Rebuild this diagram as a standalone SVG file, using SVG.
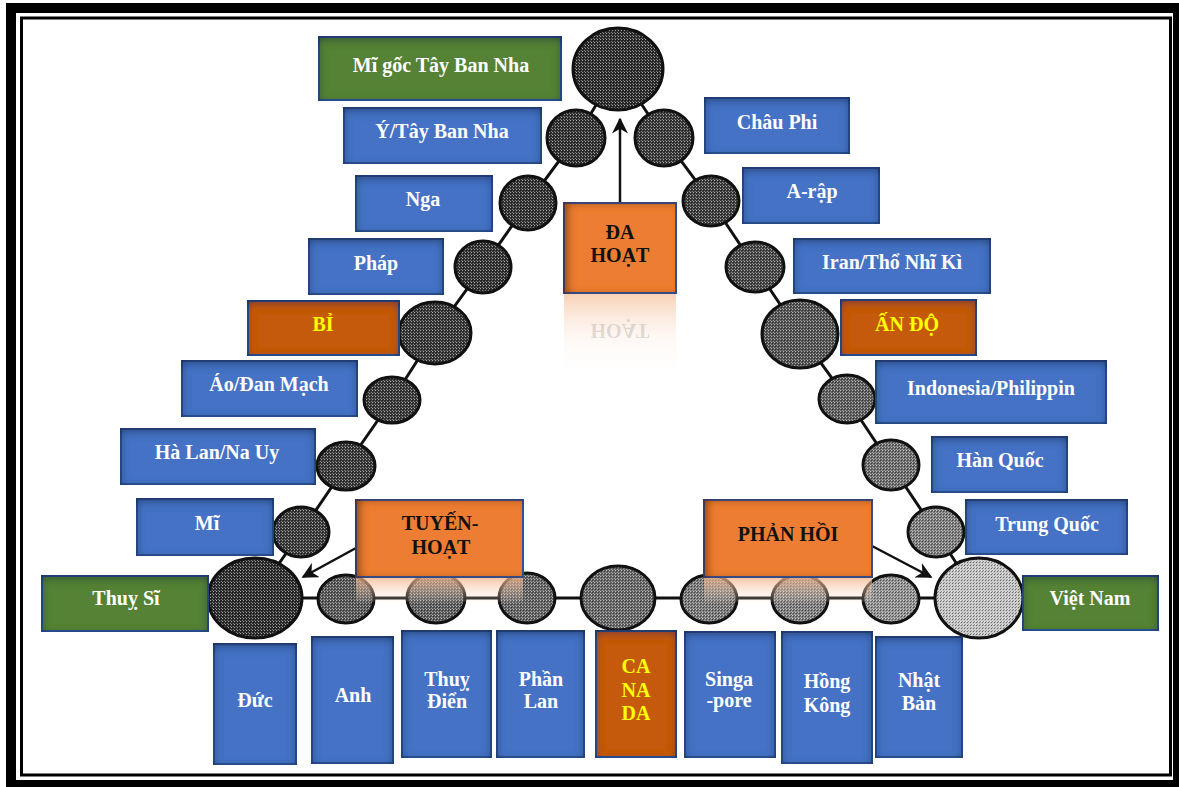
<svg xmlns="http://www.w3.org/2000/svg" width="1179" height="787" viewBox="0 0 1179 787">
<style>
text{font-family:"Liberation Serif","Times New Roman",serif;font-weight:bold;font-size:20px;text-anchor:middle}
.w{fill:#fff}.y{fill:#ffff00}.k{fill:#111}
.blue{fill:#4472C4;stroke:#2F5597;stroke-width:2;filter:url(#ish)}
.green{fill:#548235;stroke:#2F5597;stroke-width:2;filter:url(#ish)}
.brown{fill:#C55A11;stroke:#2F5597;stroke-width:2;filter:url(#ish)}
.orange{fill:#ED7D31;stroke:#2F5597;stroke-width:2;filter:url(#ishL)}
.t{fill:url(#tex);stroke:#111;stroke-width:3}
.ln{stroke:#111;stroke-width:3;fill:none}
.ar{stroke:#111;stroke-width:2.5;fill:none;marker-end:url(#ah)}
</style>
<defs>
<pattern id="tex" width="3" height="3" patternUnits="userSpaceOnUse">
<rect width="1" height="1" fill="#fff" fill-opacity="0.55"/>
<rect x="1" y="1" width="1" height="1" fill="#000" fill-opacity="0.45"/>
<rect x="2" y="2" width="1" height="1" fill="#fff" fill-opacity="0.35"/>
<rect x="2" y="0" width="1" height="1" fill="#000" fill-opacity="0.25"/>
</pattern>
<filter id="ish" x="-20%" y="-20%" width="140%" height="140%">
<feFlood flood-color="#0a1a3a" flood-opacity="0.8" result="f"/>
<feComposite in="f" in2="SourceAlpha" operator="out" result="o"/>
<feGaussianBlur in="o" stdDeviation="5" result="b"/>
<feOffset in="b" dx="0" dy="3" result="bo"/>
<feComposite in="bo" in2="SourceAlpha" operator="in" result="s"/>
<feMerge><feMergeNode in="SourceGraphic"/><feMergeNode in="s"/></feMerge>
</filter>
<filter id="ishL" x="-20%" y="-20%" width="140%" height="140%">
<feFlood flood-color="#4a1f00" flood-opacity="0.8" result="f"/>
<feComposite in="f" in2="SourceAlpha" operator="out" result="o"/>
<feGaussianBlur in="o" stdDeviation="4" result="b"/>
<feOffset in="b" dx="5" dy="1" result="bo"/>
<feComposite in="bo" in2="SourceAlpha" operator="in" result="s"/>
<feMerge><feMergeNode in="SourceGraphic"/><feMergeNode in="s"/></feMerge>
</filter>
<linearGradient id="refl" x1="0" y1="0" x2="0" y2="1">
<stop offset="0" stop-color="#F4B183" stop-opacity="0.6"/>
<stop offset="0.5" stop-color="#FBE5D6" stop-opacity="0.25"/>
<stop offset="1" stop-color="#fff" stop-opacity="0"/>
</linearGradient>
<linearGradient id="refl2" x1="0" y1="0" x2="0" y2="1">
<stop offset="0" stop-color="#F4B183" stop-opacity="0.75"/>
<stop offset="1" stop-color="#FBE5D6" stop-opacity="0.1"/>
</linearGradient>
<marker id="ah" viewBox="0 0 10 10" refX="9" refY="5" markerWidth="6.5" markerHeight="6.5" markerUnits="strokeWidth" orient="auto">
<path d="M0,0 L10,5 L0,10 L3,5 Z" fill="#111"/>
</marker>
</defs>

<rect width="1179" height="787" fill="#fff"/>
<g id="frame" fill="none" stroke="#000">
<rect x="11" y="8" width="1167" height="777" stroke-width="10"/>
<rect x="21.5" y="18" width="1149" height="757" stroke-width="3"/>
</g>

<g id="connectors">
<polyline class="ln" points="618,69 576,138 528,203 483,267 435,333 392,400 346,466 301,532 255,598"/>
<polyline class="ln" points="618,69 664,138 711,201 755,267 800,334 847,399 891,465 936,532 979,598"/>
<line class="ln" x1="255" y1="598" x2="979" y2="598"/>
</g>

<g id="circles">
<g id="c-top"><ellipse cx="618" cy="69" rx="45" ry="41" fill="#2e2e2e"/><ellipse class="t" cx="618" cy="69" rx="45" ry="41"/></g>
<g id="c-l1"><ellipse cx="576" cy="138" rx="29" ry="28" fill="#333"/><ellipse class="t" cx="576" cy="138" rx="29" ry="28"/></g>
<g id="c-l2"><ellipse cx="528" cy="203" rx="28" ry="27" fill="#333"/><ellipse class="t" cx="528" cy="203" rx="28" ry="27"/></g>
<g id="c-l3"><ellipse cx="483" cy="267" rx="28" ry="26" fill="#333"/><ellipse class="t" cx="483" cy="267" rx="28" ry="26"/></g>
<g id="c-l4"><ellipse cx="435" cy="333" rx="36" ry="31" fill="#383838"/><ellipse class="t" cx="435" cy="333" rx="36" ry="31"/></g>
<g id="c-l5"><ellipse cx="392" cy="400" rx="28" ry="23" fill="#3a3a3a"/><ellipse class="t" cx="392" cy="400" rx="28" ry="23"/></g>
<g id="c-l6"><ellipse cx="346" cy="466" rx="29" ry="24" fill="#3a3a3a"/><ellipse class="t" cx="346" cy="466" rx="29" ry="24"/></g>
<g id="c-l7"><ellipse cx="301" cy="532" rx="28" ry="25" fill="#3c3c3c"/><ellipse class="t" cx="301" cy="532" rx="28" ry="25"/></g>
<g id="c-bl"><ellipse cx="255" cy="598" rx="47" ry="40" fill="#2e2e2e"/><ellipse class="t" cx="255" cy="598" rx="47" ry="40"/></g>
<g id="c-b1"><ellipse cx="346" cy="599" rx="28" ry="24" fill="#5a5a5a"/><ellipse class="t" cx="346" cy="599" rx="28" ry="24"/></g>
<g id="c-b2"><ellipse cx="436" cy="598" rx="29" ry="25" fill="#606060"/><ellipse class="t" cx="436" cy="598" rx="29" ry="25"/></g>
<g id="c-b3"><ellipse cx="527" cy="598" rx="28" ry="25" fill="#666"/><ellipse class="t" cx="527" cy="598" rx="28" ry="25"/></g>
<g id="c-b4"><ellipse cx="618" cy="598" rx="37" ry="32" fill="#6a6a6a"/><ellipse class="t" cx="618" cy="598" rx="37" ry="32"/></g>
<g id="c-b5"><ellipse cx="709" cy="599" rx="28" ry="24" fill="#7a7a7a"/><ellipse class="t" cx="709" cy="599" rx="28" ry="24"/></g>
<g id="c-b6"><ellipse cx="800" cy="599" rx="28" ry="24" fill="#808080"/><ellipse class="t" cx="800" cy="599" rx="28" ry="24"/></g>
<g id="c-b7"><ellipse cx="891" cy="599" rx="28" ry="24" fill="#929292"/><ellipse class="t" cx="891" cy="599" rx="28" ry="24"/></g>
<g id="c-r1"><ellipse cx="664" cy="138" rx="29" ry="28" fill="#3a3a3a"/><ellipse class="t" cx="664" cy="138" rx="29" ry="28"/></g>
<g id="c-r2"><ellipse cx="711" cy="201" rx="28" ry="25" fill="#3e3e3e"/><ellipse class="t" cx="711" cy="201" rx="28" ry="25"/></g>
<g id="c-r3"><ellipse cx="755" cy="267" rx="29" ry="25" fill="#484848"/><ellipse class="t" cx="755" cy="267" rx="29" ry="25"/></g>
<g id="c-r4"><ellipse cx="800" cy="334" rx="38" ry="34" fill="#555"/><ellipse class="t" cx="800" cy="334" rx="38" ry="34"/></g>
<g id="c-r5"><ellipse cx="847" cy="399" rx="28" ry="24" fill="#606060"/><ellipse class="t" cx="847" cy="399" rx="28" ry="24"/></g>
<g id="c-r6"><ellipse cx="891" cy="465" rx="28" ry="25" fill="#707070"/><ellipse class="t" cx="891" cy="465" rx="28" ry="25"/></g>
<g id="c-r7"><ellipse cx="936" cy="532" rx="28" ry="25" fill="#808080"/><ellipse class="t" cx="936" cy="532" rx="28" ry="25"/></g>
<g id="c-vn"><ellipse cx="979" cy="598" rx="44" ry="40" fill="#c4c4c4"/><ellipse class="t" cx="979" cy="598" rx="44" ry="40"/></g>
</g>

<g id="arrows">
<line class="ar" x1="620" y1="203" x2="620" y2="119"/>
<line class="ar" x1="356" y1="548" x2="303" y2="577"/>
<line class="ar" x1="872" y1="546" x2="931" y2="577"/>
</g>

<g id="n-migoc"><rect class="green" x="319" y="37" width="242" height="63"/><text class="w" x="441" y="72">Mĩ gốc Tây Ban Nha</text></g>
<g id="n-y"><rect class="blue" x="344" y="108" width="197" height="55"/><text class="w" x="442" y="138">Ý/Tây Ban Nha</text></g>
<g id="n-nga"><rect class="blue" x="356" y="176" width="136" height="55"/><text class="w" x="423" y="206">Nga</text></g>
<g id="n-phap"><rect class="blue" x="309" y="239" width="134" height="55"/><text class="w" x="376" y="270">Pháp</text></g>
<g id="n-bi"><rect class="brown" x="248" y="301" width="151" height="54"/><text class="y" x="323" y="331">BỈ</text></g>
<g id="n-ao"><rect class="blue" x="182" y="361" width="175" height="55"/><text class="w" x="269" y="391">Áo/Đan Mạch</text></g>
<g id="n-halan"><rect class="blue" x="121" y="429" width="194" height="55"/><text class="w" x="217" y="459">Hà Lan/Na Uy</text></g>
<g id="n-mi"><rect class="blue" x="137" y="499" width="136" height="56"/><text class="w" x="207" y="530">Mĩ</text></g>
<g id="n-thuysi"><rect class="green" x="42" y="576" width="166" height="55"/><text class="w" x="126" y="605">Thuỵ Sĩ</text></g>

<g id="n-duc"><rect class="blue" x="214" y="644" width="82" height="120"/><text class="w" x="255" y="707">Đức</text></g>
<g id="n-anh"><rect class="blue" x="312" y="637" width="81" height="126"/><text class="w" x="353" y="702">Anh</text></g>
<g id="n-thuydien"><rect class="blue" x="402" y="631" width="89" height="126"/><text class="w" x="447" y="686">Thuỵ</text><text class="w" x="447" y="708">Điển</text></g>
<g id="n-phanlan"><rect class="blue" x="497" y="631" width="87" height="126"/><text class="w" x="541" y="686">Phần</text><text class="w" x="541" y="708">Lan</text></g>
<g id="n-canada"><rect class="brown" x="596" y="631" width="80" height="126"/><text class="y" x="636" y="673">CA</text><text class="y" x="636" y="697">NA</text><text class="y" x="636" y="720">DA</text></g>
<g id="n-singapore"><rect class="blue" x="685" y="632" width="90" height="125"/><text class="w" x="729" y="686">Singa</text><text class="w" x="729" y="707">-pore</text></g>
<g id="n-hongkong"><rect class="blue" x="782" y="632" width="90" height="131"/><text class="w" x="827" y="688">Hồng</text><text class="w" x="827" y="712">Kông</text></g>
<g id="n-nhatban"><rect class="blue" x="876" y="637" width="86" height="120"/><text class="w" x="919" y="687">Nhật</text><text class="w" x="919" y="710">Bản</text></g>
<g id="n-vietnam"><rect class="green" x="1023" y="576" width="135" height="54"/><text class="w" x="1090" y="605">Việt Nam</text></g>

<g id="n-chauphi"><rect class="blue" x="705" y="98" width="144" height="55"/><text class="w" x="777" y="129">Châu Phi</text></g>
<g id="n-arap"><rect class="blue" x="743" y="168" width="136" height="55"/><text class="w" x="812" y="198">A-rập</text></g>
<g id="n-iran"><rect class="blue" x="794" y="239" width="196" height="54"/><text class="w" x="892" y="269">Iran/Thổ Nhĩ Kì</text></g>
<g id="n-ando"><rect class="brown" x="841" y="300" width="135" height="55"/><text class="y" x="907" y="331">ẤN ĐỘ</text></g>
<g id="n-indo"><rect class="blue" x="876" y="361" width="230" height="62"/><text class="w" x="991" y="395">Indonesia/Philippin</text></g>
<g id="n-hanquoc"><rect class="blue" x="932" y="437" width="135" height="55"/><text class="w" x="1000" y="467">Hàn Quốc</text></g>
<g id="n-trungquoc"><rect class="blue" x="966" y="500" width="161" height="54"/><text class="w" x="1047" y="531">Trung Quốc</text></g>

<g id="n-dahoat">
<rect x="564" y="293" width="112" height="92" fill="url(#refl)"/>
<text class="k" x="620" y="262" transform="translate(0,586) scale(1,-1)" fill-opacity="0.15">HOẠT</text>
<rect class="orange" x="564" y="203" width="112" height="90"/>
<text class="k" x="620" y="239">ĐA</text><text class="k" x="620" y="262">HOẠT</text>
</g>
<g id="n-tuyenhoat">
<rect x="356" y="577" width="167" height="25" fill="url(#refl2)"/>
<rect class="orange" x="356" y="500" width="167" height="77"/>
<text class="k" x="440" y="530">TUYẾN-</text><text class="k" x="441" y="554">HOẠT</text>
</g>
<g id="n-phanhoi">
<rect x="704" y="577" width="168" height="25" fill="url(#refl2)"/>
<rect class="orange" x="704" y="500" width="168" height="77"/>
<text class="k" x="788" y="541">PHẢN HỒI</text>
</g>
</svg>
